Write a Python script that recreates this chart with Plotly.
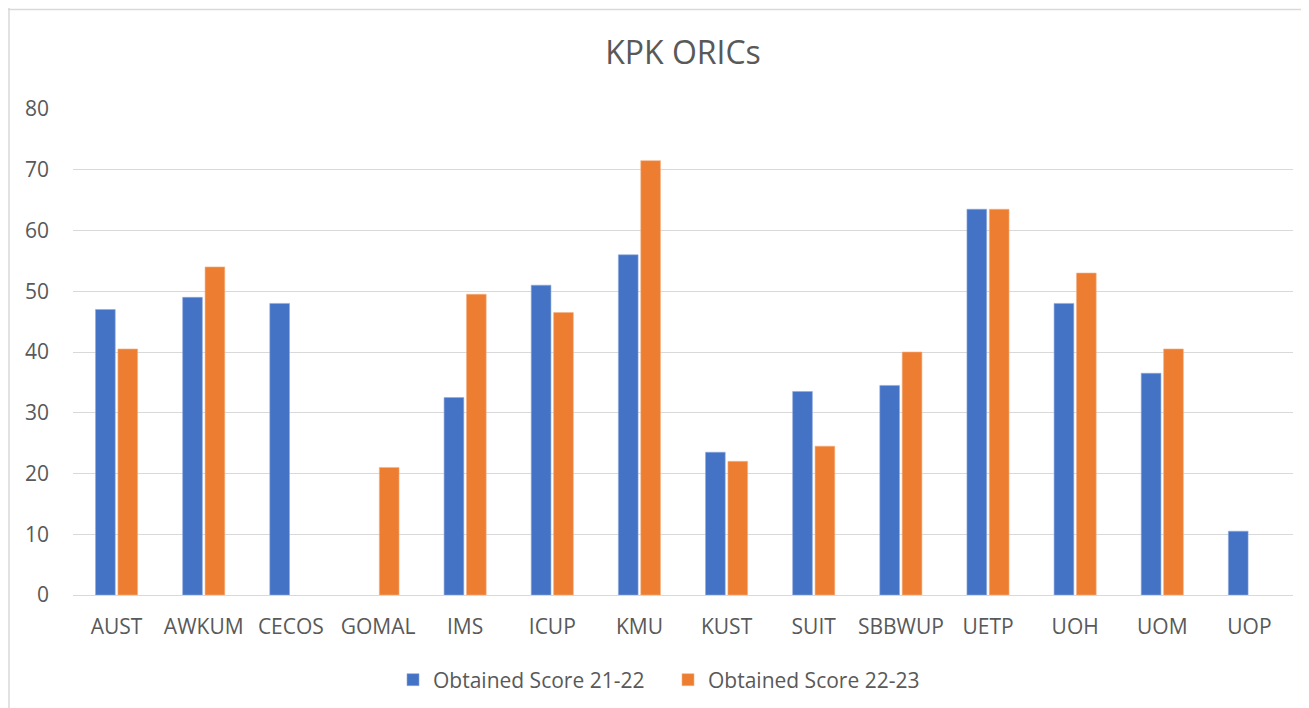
import plotly.graph_objects as go

universities = ['AUST', 'AWKUM', 'CECOS', 'GOMAL', 'IMS', 'ICUP', 'KMU',
                'KUST', 'SUIT', 'SBBWUP', 'UETP', 'UOH', 'UOM', 'UOP']
score_21_22 = [47, 49, 48, None, 32.5, 51, 56, 23.5, 33.5, 34.5, 63.5, 48, 36.5, 10.5]
score_22_23 = [40.5, 54, None, 21, 49.5, 46.5, 71.5, 22, 24.5, 40, 63.5, 53, 40.5, None]
y_ticks = [0, 10, 20, 30, 40, 50, 60, 70, 80]

FONT = "Open Sans"
GREY = "#595959"

# plot area in pixels
L, R, T, B = 65, 24, 101, 121
PW, PH = 1309 - L - R, 708 - T - B

fig = go.Figure()
fig.add_trace(go.Bar(x=universities, y=score_21_22, name='Obtained Score 21-22',
                     marker=dict(color='#4472C4', line=dict(color='#8FAADC', width=0.6))))
fig.add_trace(go.Bar(x=universities, y=score_22_23, name='Obtained Score 22-23',
                     marker=dict(color='#ED7D31', line=dict(color='#F4B183', width=0.6))))

# light chart border (top and left edges visible in the source)
fig.add_shape(type='line', xref='paper', yref='paper', x0=-L / PW, x1=(1309 - L) / PW,
              y0=1 + (T - 1.5) / PH, y1=1 + (T - 1.5) / PH, line=dict(color='#D9D9D9', width=1.5))
fig.add_shape(type='line', xref='paper', yref='paper', x0=-(L - 1) / PW, x1=-(L - 1) / PW,
              y0=-B / PH, y1=1 + T / PH, line=dict(color='#D9D9D9', width=1.5))

fig.update_layout(
    width=1309, height=708,
    margin=dict(l=L, r=R, t=T, b=B),
    paper_bgcolor='white', plot_bgcolor='white',
    font=dict(family=FONT, size=21, color=GREY),
    title=dict(text='KPK ORICs', x=0.5, xref='paper', y=1 - 45 / 708, yanchor='middle',
               font=dict(size=32, color=GREY, family=FONT)),
    barmode='group', bargap=0.486, bargroupgap=0.12,
    legend=dict(orientation='h', x=0.5 - 15 / PW, xanchor='center', y=-(672 - (T + PH)) / PH,
                yanchor='middle', font=dict(size=21, color=GREY), itemwidth=30,
                entrywidth=230, entrywidthmode='pixels'),
    showlegend=True,
)
fig.update_xaxes(showgrid=False, showline=False, ticks='', ticklabelstandoff=17,
                 tickfont=dict(size=21, color=GREY))
fig.update_yaxes(range=[0, 80], tickvals=y_ticks, showgrid=True, gridcolor='#D9D9D9',
                 gridwidth=1.2, zeroline=True, zerolinecolor='#D9D9D9', zerolinewidth=1.2,
                 showline=False, ticks='', ticklabelstandoff=23,
                 tickfont=dict(size=21, color=GREY))

fig.write_html("out.html")
